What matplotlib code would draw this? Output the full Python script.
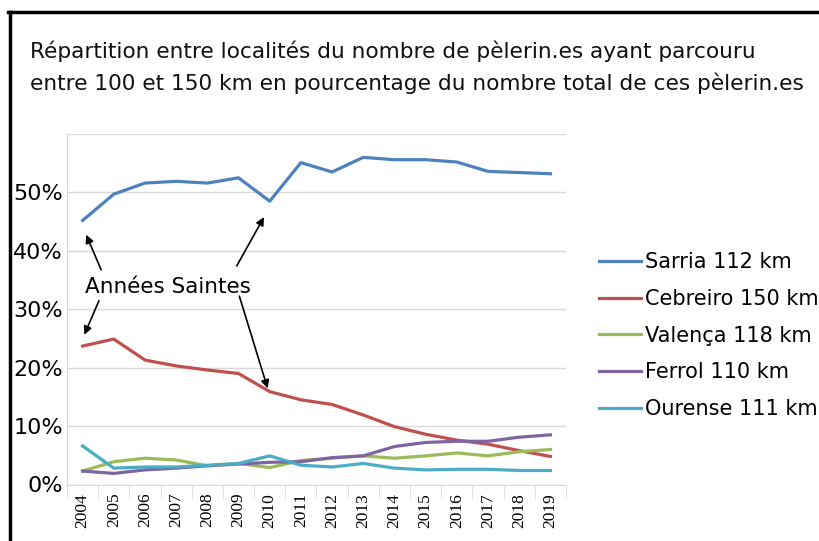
import matplotlib
matplotlib.use("Agg")
import matplotlib.pyplot as plt
from matplotlib.lines import Line2D
import numpy as np

years = ["2004", "2005", "2006", "2007", "2008", "2009", "2010", "2011",
         "2012", "2013", "2014", "2015", "2016", "2017", "2018", "2019"]
sarria = [45.2, 49.7, 51.6, 51.9, 51.6, 52.5, 48.5, 55.1, 53.5, 56.0, 55.6, 55.6, 55.2, 53.6, 53.4, 53.2]
cebreiro = [23.7, 24.9, 21.3, 20.3, 19.6, 19.0, 15.9, 14.5, 13.7, 11.9, 9.9, 8.6, 7.6, 6.9, 5.8, 4.8]
valenca = [2.3, 3.9, 4.5, 4.2, 3.2, 3.6, 2.9, 4.1, 4.5, 4.9, 4.5, 4.9, 5.4, 4.9, 5.6, 6.0]
ferrol = [2.3, 1.9, 2.5, 2.8, 3.2, 3.5, 3.8, 3.9, 4.6, 4.9, 6.5, 7.2, 7.4, 7.4, 8.1, 8.5]
ourense = [6.6, 2.8, 3.0, 3.0, 3.3, 3.6, 4.9, 3.3, 3.0, 3.6, 2.8, 2.5, 2.6, 2.6, 2.4, 2.4]
series_names = ["Sarria 112 km", "Cebreiro 150 km", "Valença 118 km", "Ferrol 110 km", "Ourense 111 km"]
ytick_labels = ["0%", "10%", "20%", "30%", "40%", "50%"]
title = ("Répartition entre localités du nombre de pèlerin.es ayant parcouru\n"
         "entre 100 et 150 km en pourcentage du nombre total de ces pèlerin.es")
annot_text = "Années Saintes"

colors = ["#4F81BD", "#C0504D", "#9BBB59", "#8064A2", "#4BACC6"]
font = ["DejaVu Sans"]

fig = plt.figure(figsize=(8.2, 5.41), dpi=100)
fig.patch.set_facecolor("white")

# outer frame (black border at top and left)
fig.add_artist(Line2D([10/820, 10/820], [0, 1 - 12/541], transform=fig.transFigure,
                      color="black", lw=2.5))
fig.add_artist(Line2D([8/820, 1], [1 - 12/541, 1 - 12/541], transform=fig.transFigure,
                      color="black", lw=2.5))

fig.text(30/820, 1 - 40/541, title, fontsize=15.6, family=font, va="top", ha="left",
         linespacing=1.6, color="#111111")

ax = fig.add_axes([67/820, 1 - 484.5/541, 499/820, 350.5/541])
x = np.arange(len(years))
all_series = [sarria, cebreiro, valenca, ferrol, ourense]
for s, c, n in zip(all_series, colors, series_names):
    ax.plot(x, s, color=c, lw=2.3, label=n, solid_joinstyle="round")

ax.set_xlim(-0.5, len(years) - 0.5)
ax.set_ylim(0, 60)
ax.set_yticks([0, 10, 20, 30, 40, 50, 60])
ax.set_yticklabels(ytick_labels + [""], fontsize=16, family=font)
ax.yaxis.grid(True, color="#D9D9D9", lw=1)
ax.set_axisbelow(True)
ax.tick_params(axis="y", length=0, pad=3)
ax.set_xticks(x)
ax.set_xticklabels(years, rotation=90, fontsize=12.5, family="Liberation Serif")
ax.tick_params(axis="x", which="major", length=0, pad=6)
ax.set_xticks(np.arange(-0.5, len(years), 1), minor=True)
ax.tick_params(axis="x", which="minor", length=9, color="#D9D9D9", direction="out")
for sp in ["top", "right"]:
    ax.spines[sp].set_visible(False)
ax.spines["left"].set_color("#D9D9D9")
ax.spines["bottom"].set_color("#D9D9D9")

# annotation
ax.text(2.75, 33.8, annot_text, fontsize=15.5, family=font, ha="center", va="center")
arrowprops = dict(arrowstyle="-|>", color="black", lw=1.2, mutation_scale=12)
ax.annotate("", xy=(0.08, 43.2), xytext=(0.63, 36.3), arrowprops=arrowprops)
ax.annotate("", xy=(0.02, 25.2), xytext=(0.56, 31.9), arrowprops=arrowprops)
ax.annotate("", xy=(5.86, 46.2), xytext=(4.9, 37.0), arrowprops=arrowprops)
ax.annotate("", xy=(5.96, 16.0), xytext=(5.0, 32.7), arrowprops=arrowprops)

leg = fig.legend(loc="upper left", bbox_to_anchor=(591/820, 1 - 244/541),
                 frameon=False, prop={"family": font, "size": 15},
                 handlelength=2.0, handletextpad=0.2, labelspacing=0.8,
                 borderaxespad=0)

fig.savefig("out.png", dpi=100, facecolor="white")
